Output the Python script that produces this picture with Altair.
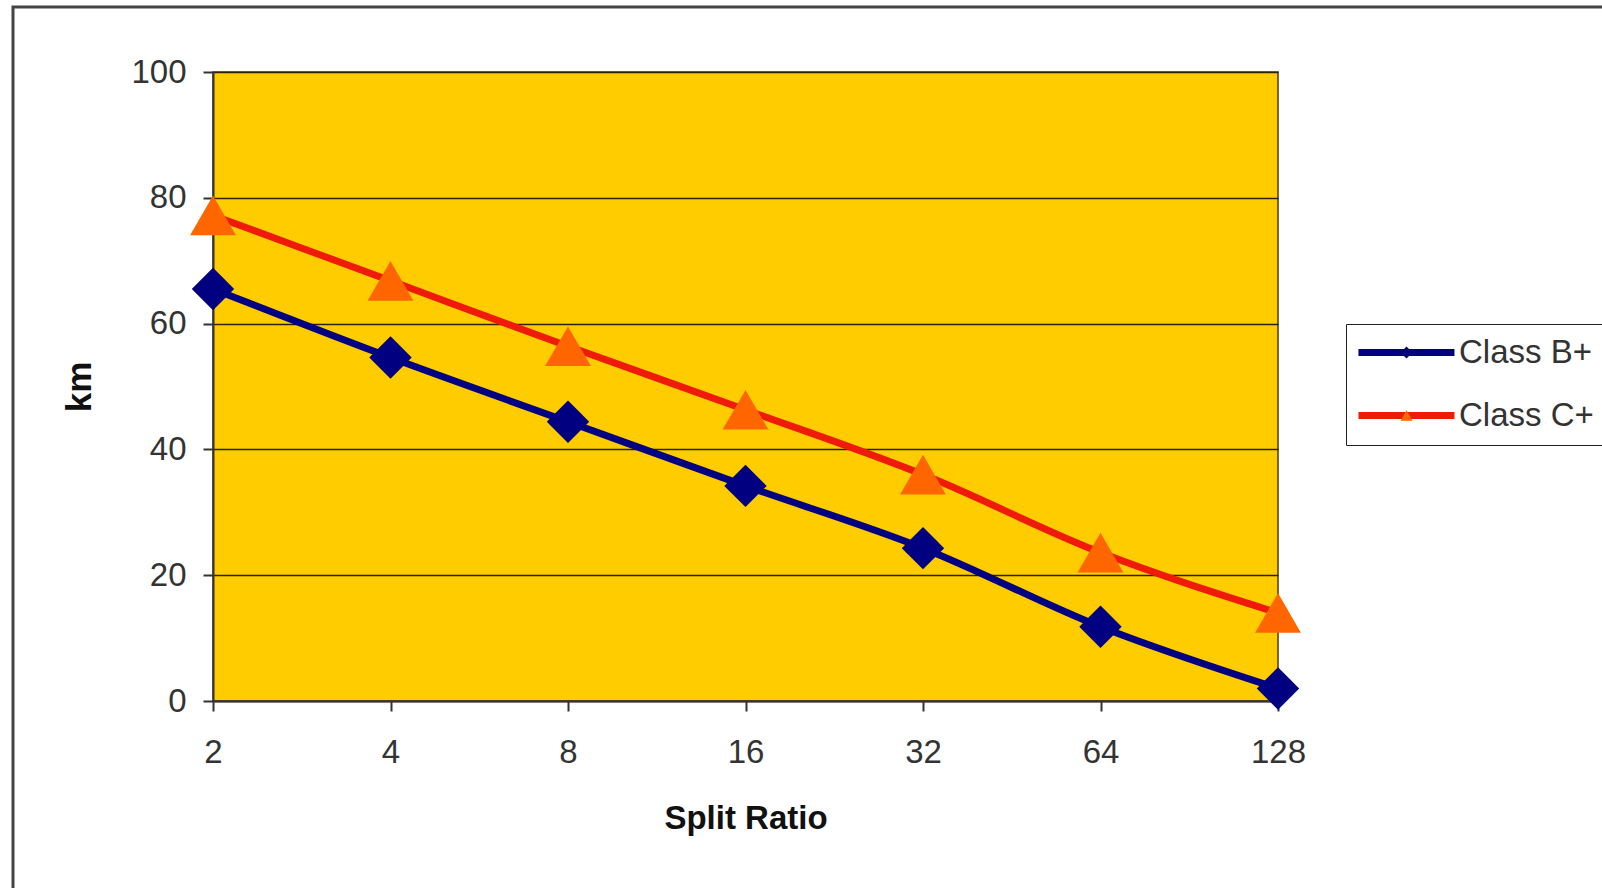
import altair as alt
import pandas as pd

split_ratio = ["2", "4", "8", "16", "32", "64", "128"]
class_b = [65.5, 54.6, 44.4, 34.2, 24.3, 11.8, 2.0]
class_c = [77.2, 66.8, 56.4, 46.3, 36.0, 23.6, 14.0]
series_names = ["Class B+", "Class C+"]
marker_keys = ["B+ marker", "C+ marker"]
size_keys = ["B+ size", "C+ size"]
y_ticks = [0, 20, 40, 60, 80, 100]

rows = []
for name, mk, sk, vals in zip(series_names, marker_keys, size_keys, [class_b, class_c]):
    for x, v in zip(split_ratio, vals):
        rows.append({"ratio": x, "km": v, "series": name, "marker": mk, "msize": sk})
df = pd.DataFrame(rows)

FONT = "Liberation Sans"

x_enc = alt.X("ratio:N", sort=split_ratio,
              scale=alt.Scale(type="point", padding=0),
              axis=alt.Axis(title="Split Ratio", labelAngle=0, grid=False,
                            labelFontSize=33, labelFont=FONT, labelColor="#333",
                            labelPadding=25, tickSize=10, tickColor="#333", tickWidth=2,
                            domainColor="#333", domainWidth=2,
                            titleFont=FONT, titleFontSize=33, titleFontWeight="bold",
                            titleColor="#111", titlePadding=33))
y_enc = alt.Y("km:Q", scale=alt.Scale(domain=[0, 100], nice=False),
              axis=alt.Axis(title="km", values=y_ticks, grid=True,
                            gridColor="#2a2200", gridWidth=1.6,
                            labelFontSize=33, labelFont=FONT, labelColor="#333",
                            labelPadding=17, tickSize=10, tickColor="#333", tickWidth=2,
                            domainColor="#333", domainWidth=2,
                            titleFont=FONT, titleFontSize=35, titleFontWeight="bold",
                            titleColor="#111", titlePadding=33))

LX, LY = 1133, 252

lines = alt.Chart(df).mark_line(strokeWidth=7, interpolate="monotone").encode(
    x=x_enc, y=y_enc,
    color=alt.Color("series:N",
                    scale=alt.Scale(domain=series_names, range=["#000080", "#F01A08"]),
                    legend=alt.Legend(orient="none", legendX=LX, legendY=LY, title=None,
                                      symbolType="M-2.67,0H13.33", symbolSize=144,
                                      symbolStrokeWidth=7, labelFontSize=33,
                                      labelFont=FONT, labelColor="#333",
                                      labelOffset=68, padding=12, rowPadding=29,
                                      strokeColor="#222", fillColor="white",
                                      zindex=1)),
    detail="series:N",
)

marker_legend = alt.Legend(orient="none", legendX=LX, legendY=LY, title=None,
                           symbolSize=144, symbolOffset=32, labelFontSize=33,
                           labelFont=FONT, labelColor="transparent", labelExpr="' '",
                           labelOffset=36, padding=12, rowPadding=29,
                           symbolStrokeWidth=0, zindex=2)

points = alt.Chart(df).mark_point(filled=True, opacity=1, strokeWidth=0).encode(
    x=x_enc, y=y_enc,
    color=alt.Color("marker:N",
                    scale=alt.Scale(domain=marker_keys, range=["#000080", "#FF6600"]),
                    legend=marker_legend),
    shape=alt.Shape("marker:N",
                    scale=alt.Scale(domain=marker_keys, range=["diamond", "triangle-up"]),
                    legend=marker_legend),
    size=alt.Size("msize:N",
                  scale=alt.Scale(domain=size_keys, range=[1800, 2100]),
                  legend=None),
)

border = alt.Chart(alt.Data(values=[{"b": 1}])).mark_rect(
    fill="transparent", stroke="#444", strokeWidth=3
).encode(
    x=alt.value(-200), x2=alt.value(1500), y=alt.value(-65), y2=alt.value(900)
)

chart = alt.layer(border, lines, points).resolve_scale(
    color="independent", shape="independent", size="independent"
).resolve_legend(
    color="independent", shape="independent", size="independent"
).properties(
    width=1065, height=629,
    autosize=alt.AutoSizeParams(type="none"),
    padding={"left": 213, "top": 72, "right": 324, "bottom": 187},
    background="white",
).configure_view(
    fill="#FFCC00", stroke="#4a3a10", strokeWidth=1.5
)

chart.save("out.html", embed_options={"renderer": "svg", "actions": False})
